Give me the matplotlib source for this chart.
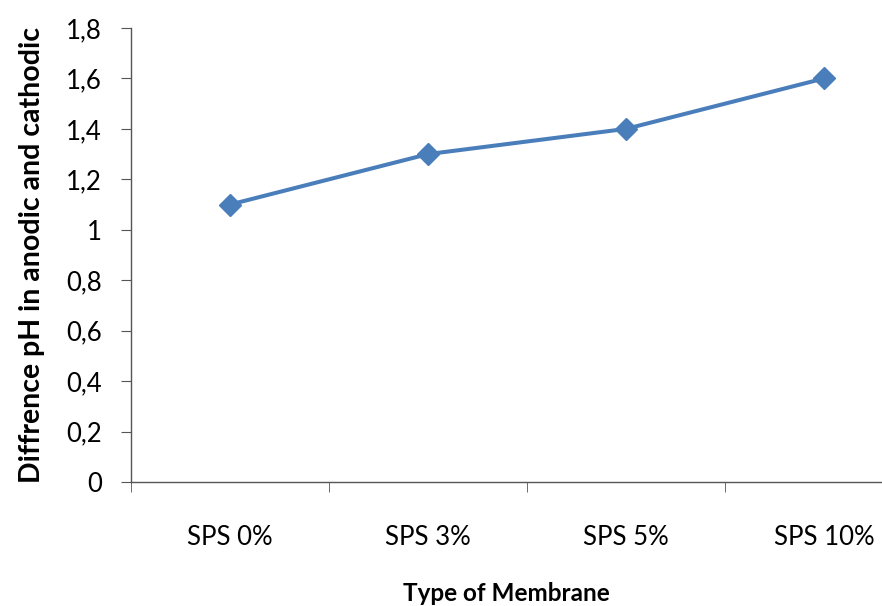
import matplotlib.pyplot as plt
import matplotlib as mpl

plt.rcParams['font.family'] = ['Lato', 'DejaVu Sans']

categories = ['SPS 0%', 'SPS 3%', 'SPS 5%', 'SPS 10%']
ph_diff = [1.1, 1.3, 1.4, 1.6]
y_ticks = [0, 0.2, 0.4, 0.6, 0.8, 1.0, 1.2, 1.4, 1.6, 1.8]
y_labels = ['0', '0,2', '0,4', '0,6', '0,8', '1', '1,2', '1,4', '1,6', '1,8']

fig = plt.figure(figsize=(8.82, 6.06), dpi=100)
ax = fig.add_axes([131/882, 1 - 482/606, 751/882, 454/606])

x = list(range(len(categories)))
ax.plot(x, ph_diff, color='#4A7EBB', linewidth=2.9, marker='D', markersize=11.5)

ax.set_yticks(y_ticks)
ax.set_yticklabels(y_labels, fontsize=18.5)
ax.set_xticks(x)
ax.set_xticklabels(categories, fontsize=18.5)
ax.set_xticks([-0.5, 0.5, 1.5, 2.5], minor=True)
# ticks first, limits after (set_xticks widens the view otherwise)
ax.set_xlim(-0.5, -0.5 + 751/198)
ax.set_ylim(0, 1.8)

for s in ['top', 'right']:
    ax.spines[s].set_visible(False)
for s in ['left', 'bottom']:
    ax.spines[s].set_color('#555555')
    ax.spines[s].set_linewidth(1.0)

ax.tick_params(axis='y', which='major', length=7, color='#555555', pad=14)
ax.tick_params(axis='x', which='major', length=0, pad=31)
ax.tick_params(axis='x', which='minor', length=7, color='#555555')

ax.set_ylabel('Diffrence pH in anodic and cathodic', fontsize=20.5, fontweight='bold', labelpad=15)
ax.set_xlabel('Type of Membrane', fontsize=17.5, fontweight='bold', labelpad=23)

fig.savefig('out.png', dpi=100)
